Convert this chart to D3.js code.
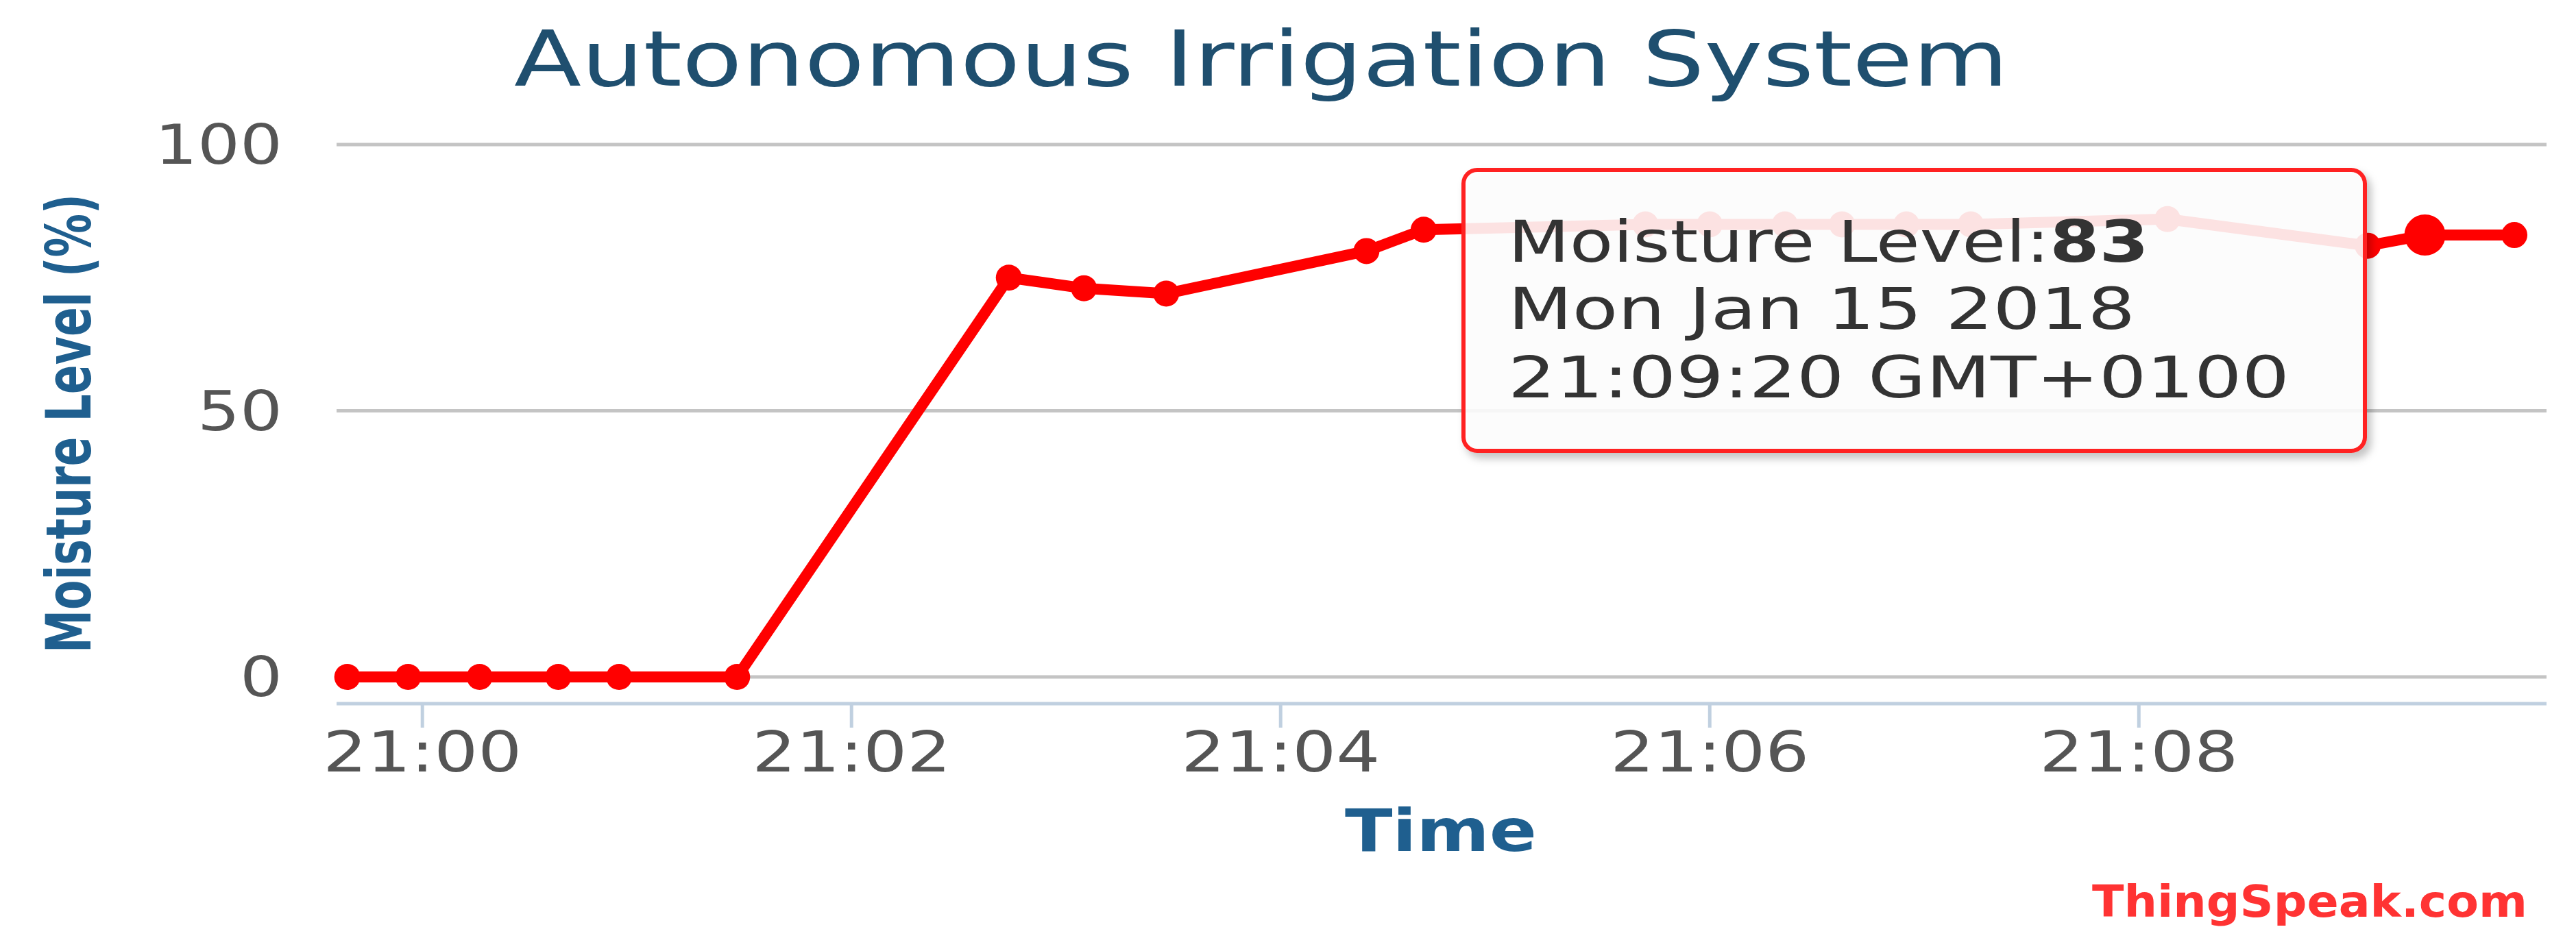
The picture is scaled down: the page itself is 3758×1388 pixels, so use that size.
<!DOCTYPE html>
<html>
<head>
<meta charset="utf-8">
<script src="https://cdn.jsdelivr.net/npm/d3@7"></script>
<style>
  body { margin: 0; background: #fff; }
  text { font-family: "DejaVu Sans", sans-serif; }
</style>
</head>
<body>
<script>
// readings, Mon Jan 15 2018 (seconds after 21:00, negative = before)
var times = [-21, -4, 16, 38, 55, 88, 164, 185, 208, 264, 280,
             342, 360, 381, 397, 415, 433, 488, 544, 560, 585];
var moisture = [0, 0, 0, 0, 0, 0, 75, 73, 72, 80, 84,
                85, 85, 85, 85, 85, 85, 86, 81, 83, 83];
var yTicks = [0, 50, 100];
var xTickLabels = ["21:00", "21:02", "21:04", "21:06", "21:08"];
var hoverIndex = 19;

const w = 3758;
const h = 1388;
const plotLeft = 491, plotRight = 3715, plotTop = 211, plotBottom = 988;

var base = new Date(2018, 0, 15, 21, 0, 0);
var data = times.map(function(t, i) {
  return {t: new Date(base.getTime() + t * 1000), v: moisture[i]};
});

var xScale = d3.scaleTime()
  .domain([new Date(base.getTime() - 24 * 1000), new Date(base.getTime() + 594 * 1000)])
  .range([plotLeft, plotRight]);
var yScale = d3.scaleLinear().domain([0, 100]).range([plotBottom, plotTop]);

var svg = d3.select("body").append("svg").attr("width", w).attr("height", h);

// title
svg.append("text")
   .attr("x", 1840).attr("y", 125)
   .attr("text-anchor", "middle")
   .attr("textLength", 2180).attr("lengthAdjust", "spacingAndGlyphs")
   .style("font-size", "112px").style("fill", "#1f4f6f")
   .text("Autonomous Irrigation System");

// grid lines
svg.selectAll(".grid").data(yTicks).enter().append("line")
   .attr("x1", plotLeft).attr("x2", plotRight)
   .attr("y1", function(d) { return yScale(d); })
   .attr("y2", function(d) { return yScale(d); })
   .style("stroke", "#c4c4c4").style("stroke-width", 5);

svg.selectAll(".ylab").data(yTicks).enter().append("text")
   .attr("x", 412).attr("y", function(d) { return yScale(d) + 28; })
   .attr("text-anchor", "end")
   .attr("textLength", function(d) { return String(d).length * 62; })
   .attr("lengthAdjust", "spacingAndGlyphs")
   .style("font-size", "80px").style("fill", "#555")
   .text(function(d) { return d; });

// x axis
var xTicks = xTickLabels.map(function(s) {
  var p = s.split(":");
  return new Date(2018, 0, 15, +p[0], +p[1], 0);
});
svg.append("line")
   .attr("x1", plotLeft).attr("x2", plotRight).attr("y1", 1027).attr("y2", 1027)
   .style("stroke", "#c0d0e0").style("stroke-width", 5);
svg.selectAll(".xtick").data(xTicks).enter().append("line")
   .attr("x1", function(d) { return xScale(d); })
   .attr("x2", function(d) { return xScale(d); })
   .attr("y1", 1027).attr("y2", 1062)
   .style("stroke", "#c0d0e0").style("stroke-width", 5);
svg.selectAll(".xlab").data(xTicks).enter().append("text")
   .attr("x", function(d) { return xScale(d); }).attr("y", 1126)
   .attr("text-anchor", "middle")
   .attr("textLength", 290).attr("lengthAdjust", "spacingAndGlyphs")
   .style("font-size", "82px").style("fill", "#555")
   .text(function(d, i) { return xTickLabels[i]; });

// axis titles
svg.append("text")
   .attr("x", 2102).attr("y", 1242)
   .attr("text-anchor", "middle")
   .attr("textLength", 280).attr("lengthAdjust", "spacingAndGlyphs")
   .style("font-size", "86px").style("font-weight", "bold").style("fill", "#1f5f8f")
   .text("Time");
svg.append("text")
   .attr("transform", "translate(132,618) rotate(-90)")
   .attr("text-anchor", "middle")
   .attr("textLength", 670).attr("lengthAdjust", "spacingAndGlyphs")
   .style("font-size", "90px").style("font-weight", "bold").style("fill", "#1f5f8f")
   .text("Moisture Level (%)");

// series
var line = d3.line()
  .x(function(d) { return xScale(d.t); })
  .y(function(d) { return yScale(d.v); });
svg.append("path").datum(data).attr("d", line)
   .style("fill", "none").style("stroke", "#ff0000")
   .style("stroke-width", 16).style("stroke-linejoin", "round");
svg.selectAll(".dot").data(data).enter().append("circle")
   .attr("cx", function(d) { return xScale(d.t); })
   .attr("cy", function(d) { return yScale(d.v); })
   .attr("r", function(d, i) { return i === hoverIndex ? 30 : 19; })
   .style("fill", "#ff0000");

// tooltip
var defs = svg.append("defs");
var f = defs.append("filter").attr("id", "shadow").attr("x", "-10%").attr("y", "-10%")
  .attr("width", "130%").attr("height", "130%");
f.append("feDropShadow").attr("dx", 6).attr("dy", 8).attr("stdDeviation", 6)
  .attr("flood-color", "#000").attr("flood-opacity", 0.25);
svg.append("rect")
   .attr("x", 2135).attr("y", 248).attr("width", 1315).attr("height", 410)
   .attr("rx", 20)
   .attr("filter", "url(#shadow)")
   .style("fill", "rgba(255,255,255,0.87)")
   .style("stroke", "#ff2020").style("stroke-width", 6);
var hp = data[hoverIndex];
var tip = svg.append("text").attr("textLength", 935).attr("lengthAdjust", "spacingAndGlyphs")
  .style("font-size", "84px").style("fill", "#333");
tip.append("tspan").attr("x", 2200).attr("y", 382).text("Moisture Level:");
tip.append("tspan").style("font-weight", "bold").text(hp.v);
svg.append("text").attr("x", 2200).attr("y", 480)
   .attr("textLength", 915).attr("lengthAdjust", "spacingAndGlyphs")
   .style("font-size", "84px").style("fill", "#333")
   .text(d3.timeFormat("%a %b %d %Y")(hp.t));
svg.append("text").attr("x", 2200).attr("y", 580)
   .attr("textLength", 1140).attr("lengthAdjust", "spacingAndGlyphs")
   .style("font-size", "84px").style("fill", "#333")
   .text(d3.timeFormat("%H:%M:%S")(hp.t) + " GMT+0100");

// credit
svg.append("text")
   .attr("x", 3687).attr("y", 1338).attr("text-anchor", "end")
   .attr("textLength", 635).attr("lengthAdjust", "spacingAndGlyphs")
   .style("font-size", "64px").style("font-weight", "bold").style("fill", "#ff3333")
   .text("ThingSpeak.com");
</script>
</body>
</html>
